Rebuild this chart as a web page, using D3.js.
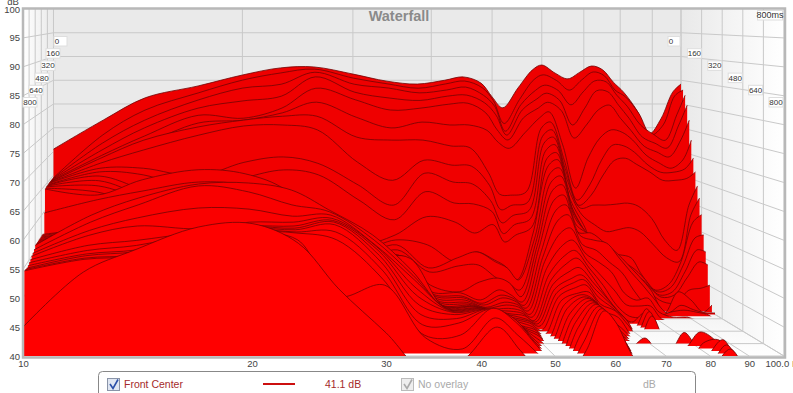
<!DOCTYPE html>
<html><head><meta charset="utf-8">
<style>html,body{margin:0;padding:0;background:#fff;overflow:hidden}svg{display:block}text{font-family:"Liberation Sans",Arial,sans-serif}</style>
<script src="https://cdn.jsdelivr.net/npm/d3@7/dist/d3.min.js"></script>
</head><body><svg id="c" width="793" height="393"></svg>
<script>
const freqs=[10,12,14,17,20,23,26,30,34,38,42,45,48,50,52,55,58,60,63,66,69,72,75,78,81,85,89,93,97,100];
const times=[0,16,32,48,64,80,96,112,128,144,160,176,192,208,224,240,264,288,312,336,360,384,408,432,456,480,512,544,576,608,640,672,704,736,768,800];
const db10=[70.5,64.5,64.5,64.5,64.5,64.5,64.5,64.5,64.5,64.4,64.4,64.4,64.4,64.3,64.3,59.7,55.5,56,56,56,56,56,56,56,56,56,55.5,55.2,55,54.7,54.5,54.3,54.2,54.3,54.4,45];
const db12=[76.6,73.6,72,70.7,69.7,68.7,69.4,68.5,67.6,67,66.3,65.5,64.6,63.5,63.1,62.3,57.6,57.6,57.9,57.9,58.2,58.2,58.5,58.6,58.8,61.6,60.6,59.4,58.8,57.3,56.7,56.4,56.4,56.3,56.4,54.5];
const db14=[81.3,78.8,76.8,75.3,73.7,72.1,73.1,71.2,67.6,66.4,63.5,62.4,61.8,60.8,66.1,64,60.5,60.7,61,61.2,61.4,61.6,61.9,62.1,62.4,64.8,63.8,61.7,60.5,58.2,57.6,57.1,57.1,56.8,56.9,58.3];
const db17=[83.8,82.4,81,79.4,78,76.5,75.8,74.2,66,63.4,59.5,58.4,57.4,56.4,68.1,65.8,62.5,62.7,62.9,63.1,63.3,63.5,63.8,64,64.2,67.4,67.3,63.5,60,59.7,59.8,59.2,59.2,58.8,58.9,62.3];
const db20=[86.1,85.1,83.5,80.9,77.4,77.1,77.2,76.1,68.8,65.8,56.5,56,55.4,54.4,67.3,65.2,62.5,62.7,62.9,63.1,63.3,63.5,63.8,64,64.2,67.6,66.2,63.3,61.2,60.8,61,61,61,60.9,60.8,62.9];
const db23=[87.6,86.6,84.3,81.9,79.5,78.6,78,76.3,69.9,67.4,55,54.6,54.2,53.6,64.1,62.3,61.5,61.7,61.9,62.2,62.4,62.6,62.9,63.1,63.3,66.3,63.8,62,61.2,60.8,60.7,60.7,60.6,60.7,59.8,59.5];
const db26=[87.8,87.4,86.8,85.9,83.6,80.8,78,75.3,68.6,66.4,54.2,54,53.8,53.2,56.2,54.3,57.6,57.8,58,58.3,58.5,58.8,59,59.3,59.5,62.6,62.5,62.2,61.9,61.8,61.8,61.6,60.6,59.5,50,51.6];
const db30=[86.3,85.5,84.3,82.7,81.2,77.7,73.7,68.7,64.2,61.3,52.4,51.6,50.8,50,50.2,49.4,51.7,52,52.2,52.5,52.8,53.1,53.4,53.7,54,57.9,57.3,56.7,56.7,56.4,55.8,55,53.9,52.5,51.9,44];
const db34=[84.8,84.3,83.5,81.5,79.1,75.5,73.1,65,60.1,57.3,54.4,53.6,52.8,52,51.2,50.4,51,51.4,51.7,52,52.2,52.5,52.8,53,53.3,51.4,50.8,50.3,49.2,48.1,46.9,45.6,44.2,42.8,42.7,37];
const db38=[84.2,83.4,82.5,81,79.5,76.7,73.1,69.1,66.6,63,58.1,52.6,48.2,47.6,45.2,44.1,44,44,43.9,43.8,43.8,43.7,43.9,44.1,44.2,44.3,44.5,44.8,45,45.2,45.2,44.9,44.5,42.8,40.8,39.5];
const db42=[85,84.3,83.1,81.9,80.3,76.1,71.9,68.1,64.8,60.7,57,49.2,50.2,48.8,43.9,43.9,43.6,43.6,43.5,43.4,43.4,43.5,43.6,43.9,44.2,44.3,44.7,45,45.4,45.7,46.1,46.6,47,47.5,46.2,45];
const db45=[85.7,84.9,83.7,82.1,80.5,76.1,71.5,67.9,64.4,60.5,54.8,51.2,51.4,49,45.8,42.5,42.2,42.2,42.1,42.3,42.4,42.6,42.8,42.9,43.1,43.2,43.4,43.7,44.1,44.5,44.9,45.2,45.4,45.1,43.2,41];
const db48=[84.4,83.5,82,80.5,78.5,75,66.5,64,61,59,56.5,49.6,49.4,46.4,46.6,44.5,43.8,43.6,43.1,42.9,42.6,42.4,42.2,42.2,42.1,42.1,42.1,41.9,42,42,41.9,41.6,41.3,41,39.8,37];
const db50=[81.5,80.8,79.7,78,75,72.5,62,59,56.5,54.5,53,48.2,48.2,45.4,45.6,43.5,43.2,43,42.7,42.5,42.2,42,41.9,41.6,41.6,41.5,41.3,41.2,41,40.8,40.2,39.5,39,38.5,37.5,36];
const db52=[79.2,76,74.5,73.8,72.9,71.3,61.8,59.9,58,56.3,54.4,45.6,45.8,44,42.9,42.1,41.8,41.6,41.4,41.1,40.9,40.6,40.7,40.7,40.6,40.2,39.8,39.3,39,38.5,38,37.5,37.2,37,37,36.5];
const db55=[83.4,81,80,79,77.5,74.5,62.5,60.5,59,57.5,56,55,54,53.5,53,52.5,52,51.5,51,50,49,48.3,47.8,47.3,46.9,46.5,46.2,45.8,45.5,45,44.6,44.2,43.7,43,42,41];
const db58=[87.2,85.2,83,81.3,79.5,77.6,75.5,74,72.7,71.2,69.8,68.5,67,65.5,64,62.2,60.5,58.8,56.5,54.4,52.7,51.5,50.2,49.2,48.7,48.1,47.5,47.6,47.6,47.7,47.7,47.7,47.8,47.8,47.8,47.8];
const db60=[88.2,86.2,84.1,82.5,80.7,78.8,76.8,75.3,73.9,72.5,71,69.7,68.2,66.7,65.1,63.2,61.5,59.8,57.5,55.4,53.7,52.5,51,49.9,49.3,48.6,47.7,47,46.8,46.7,46.6,46.5,46.4,46.3,46.2,46];
const db63=[86.5,85,83,81,79,72,69,67,65.2,63.4,61.5,60.2,59.4,58.4,57.1,55.9,55.5,54,52.7,51.5,50.3,49.2,48,47,46,45,44.2,43.6,43.3,43,42.7,42.4,42,41.6,41,40.4];
const db66=[85.3,83,80,75.9,73.3,63.1,60.8,59.9,59.5,58.3,56.5,55.2,55,55,55.1,55.7,54.6,52.9,50.9,48.6,47,45.4,45,44.5,44,43.8,43,41.5,40.7,40.2,39.5,39,38.5,38,37.5,36.5];
const db69=[86.7,85.1,82.7,79.4,76,69.3,63.9,62,60.1,56.3,51.4,51.2,51,50.8,50.6,53.8,54,50.6,48.9,45.8,43.2,42.2,42,42,41.8,41,39.5,39,38.5,39,41,39,38,37,36,35];
const db72=[88,86.8,85,83,79.1,73.4,69,66.1,60.1,54.9,50.6,50,49.4,49,48.6,51.8,51.1,48.6,44.9,42.9,41.1,40.3,39.5,39,38.5,38,37.5,37,37,37.5,38.5,37,36.5,36,36,36];
const db75=[87.2,86,84.8,82.8,80.1,75.1,72.1,69.1,60.3,55.3,50.4,49.2,48.2,47.6,47.8,49.4,48.3,45.1,43.5,42.7,40.7,42,43.2,43,42.5,39,38,37.5,37.5,38,39,38,37.5,37,36.5,36];
const db78=[84.6,83,82,80,77.4,74.6,71.9,69.5,60.5,55.7,49.8,48,46.8,46,45.2,47,45.8,42.2,43.9,42.7,40.1,39.5,39,39,38.5,37.5,37,36.5,37,38,42,40,38,37,36,35];
const db81=[82.5,81.6,79.7,77.3,74.9,73,70.6,68.3,59.9,54.9,46.4,46,45.4,45,43.8,44.5,43.2,40,41.2,40.2,39.5,39,38,38,37.5,37,36.5,36.5,36.5,37.5,39.5,42.5,41,39,38,38];
const db85=[78.7,78.2,75.8,73.4,71.6,69.9,68,66.7,57.4,52.2,43.3,43.2,42.8,42.6,41.9,40,40.3,40.8,40.2,39.5,39,38.5,38,38,37.5,37,36.5,36.5,36.5,36.5,37,41,41.5,42,41.5,41.2];
const db89=[73.7,73.6,73.9,72.1,70.4,68.3,66.5,65,53,49.6,44.4,44,43.4,43,41.7,44.1,41.8,41.2,40.2,39.5,38.5,38,38,37.5,37.5,37,36.5,36.5,36.5,36.5,36.5,37,37.5,38,38,38];
const db93=[77,75.7,72.6,71.1,69.4,67.2,66.5,65,50.9,48.8,49,48.4,47.4,46.4,44.2,42.5,40.9,40.8,39.5,39,38.5,38,38,37.5,37,37,36.5,36.5,36.5,36.5,36.5,36.5,36.5,36.5,36.5,36.5];
const db97=[82.5,81.8,77.9,75.9,72.9,68.9,67.2,65.4,60.1,58.3,57,54,51.8,49.6,44.6,40.1,40.3,40.2,39.5,38.5,38,37.5,37,37,36.5,36.5,36,36,36,36,36,36,36,36,36,36];
const db100=[84.2,83,82,80,77,73,69.4,66.7,64,61.7,58.5,54.6,51.4,49,45.2,41.5,40.3,38.5,37.5,37,36.5,36.5,36,36,36,36,36,36,36,36,36,36,36,36,36,36];
const columns=[db10,db12,db14,db17,db20,db23,db26,db30,db34,db38,db42,db45,db48,db50,db52,db55,db58,db60,db63,db66,db69,db72,db75,db78,db81,db85,db89,db93,db97,db100];

const dbTicks=[40,45,50,55,60,65,70,75,80,85,90,95,100];
const hzTicks=[10,20,30,40,50,60,70,80,90,100];
const msTicks=[0,160,320,480,640,800];

const svg=d3.select("#c");
const lg=d3.scaleLog().domain([10,100]).range([0,1]);
const depth=d3.scaleLinear().domain([0,800]).range([0,1]);
const leftAt=d3.scaleLinear().domain([0,800]).range([53.5,23]);
const rightAt=d3.scaleLinear().domain([0,800]).range([681,784]);
const yBack=d3.scaleLinear().domain([40,100]).range([294,9]);
const yFront=d3.scaleLinear().domain([40,100]).range([356,9]);
const X=(f,t)=>leftAt(t)+(rightAt(t)-leftAt(t))*lg(f);
const Y=(v,t)=>yBack(v)+(yFront(v)-yBack(v))*depth(t);

const defs=svg.append("defs");
function grad(id,stops,x2,y2){const g=defs.append("linearGradient").attr("id",id).attr("x1",0).attr("y1",0).attr("x2",x2).attr("y2",y2);
 stops.forEach(s=>g.append("stop").attr("offset",s[0]).attr("stop-color",s[1]));}
grad("gl",[[0,"#ffffff"],[1,"#e9e9e9"]],1,0);
grad("gr",[[0,"#e9e9e9"],[1,"#ffffff"]],1,0);
grad("gf",[[0,"#eeeeee"],[1,"#ffffff"]],0,1);

const poly=(pts,fill)=>svg.append("polygon").attr("points",pts.map(p=>p.join(",")).join(" ")).attr("fill",fill);
const T0=0,T1=800,topY=yBack(100);
poly([[leftAt(T1),topY],[leftAt(T0),topY],[leftAt(T0),Y(40,T0)],[leftAt(T1),Y(40,T1)]],"url(#gl)");
poly([[rightAt(T0),topY],[rightAt(T1),topY],[rightAt(T1),Y(40,T1)],[rightAt(T0),Y(40,T0)]],"url(#gr)");
poly([[leftAt(T0),Y(40,T0)],[rightAt(T0),Y(40,T0)],[rightAt(T1),Y(40,T1)],[leftAt(T1),Y(40,T1)]],"url(#gf)");
poly([[leftAt(T0),topY],[rightAt(T0),topY],[rightAt(T0),Y(40,T0)],[leftAt(T0),Y(40,T0)]],"#eaeaea");

const grid=svg.append("g").attr("stroke","#c9c9c9").attr("stroke-width",1).attr("fill","none");
const ln=(a,b)=>grid.append("line").attr("x1",a[0]).attr("y1",a[1]).attr("x2",b[0]).attr("y2",b[1]);
dbTicks.forEach(v=>{ if(v===100) return;
 ln([leftAt(T0),Y(v,T0)],[rightAt(T0),Y(v,T0)]);
 ln([leftAt(T0),Y(v,T0)],[leftAt(T1),Y(v,T1)]);
 ln([rightAt(T0),Y(v,T0)],[rightAt(T1),Y(v,T1)]);
});
hzTicks.forEach(f=>{
 ln([X(f,T0),topY],[X(f,T0),Y(40,T0)]);
 ln([X(f,T0),Y(40,T0)],[X(f,T1),Y(40,T1)]);
});
msTicks.forEach(t=>{
 ln([leftAt(t),topY],[leftAt(t),Y(40,t)]);
 ln([rightAt(t),topY],[rightAt(t),Y(40,t)]);
 ln([leftAt(t),Y(40,t)],[rightAt(t),Y(40,t)]);
});

const slices=times.map((t,i)=>({t,vals:columns.map((c,j)=>({f:freqs[j],v:c[i]}))}));
const shade=d3.scaleLinear().domain([0,800]).range(["#ee0000","#ff0000"]);
const marks=svg.append("g");
slices.forEach((s,i)=>{
 const floorY=Y(40,s.t);
 defs.append("clipPath").attr("id","s"+i).append("rect").attr("x",0).attr("y",0).attr("width",793).attr("height",floorY);
 const g=marks.append("g").attr("clip-path","url(#s"+i+")");
 const a=d3.area().x(d=>X(d.f,s.t)).y0(floorY+2).y1(d=>Y(d.v,s.t)).curve(d3.curveCatmullRom.alpha(0.5));
 const l=d3.line().x(d=>X(d.f,s.t)).y(d=>Y(d.v,s.t)).curve(d3.curveCatmullRom.alpha(0.5));
 g.append("path").attr("d",a(s.vals)).attr("fill",shade(s.t));
 g.append("path").attr("d",l(s.vals)).attr("fill","none").attr("stroke","#720404").attr("stroke-opacity",.9).attr("stroke-width",.9);
});

svg.append("rect").attr("x",23).attr("y",8.5).attr("width",762).attr("height",349).attr("fill","none").attr("stroke","#b8b8b8").attr("stroke-width",2.5);

const yFrontAxis=d3.axisLeft(yFront).tickValues(dbTicks).tickSize(0).tickPadding(1);
const xFront=d3.scaleLog().domain([10,100]).range([leftAt(T1),rightAt(T1)]);
const xAxis=d3.axisBottom(xFront).tickValues(hzTicks).tickSize(0).tickPadding(3).tickFormat(d=>d===100?"100.0 Hz":d);
const ya=svg.append("g").attr("transform","translate(21,0)").call(yFrontAxis);
const xa=svg.append("g").attr("transform","translate(0,357)").call(xAxis);
[ya,xa].forEach(g=>{g.select(".domain").remove();g.selectAll("text").attr("fill","#444").style("font-size","9.5px").style("font-family",'"Liberation Sans",Arial,sans-serif');});
svg.append("text").attr("x",13).attr("y",5).attr("text-anchor","middle").attr("font-size",9.5).attr("fill","#444").text("dB");
svg.append("text").attr("x",399).attr("y",21).attr("text-anchor","middle").attr("font-size",14.5).attr("font-weight","bold").attr("fill","#8a8a8a").text("Waterfall");

function tag(cx,cy,str,w,tx,fs){
 svg.append("rect").attr("x",cx-w/2).attr("y",cy-4.5).attr("width",w).attr("height",9.5).attr("fill","#fff").attr("stroke","#dedede");
 svg.append("text").attr("x",tx===undefined?cx:tx).attr("y",cy+3).attr("text-anchor","middle").attr("font-size",fs||8).attr("fill","#333").text(str);
}
const tagLeftX=d3.scaleLinear().domain([0,800]).range([60,30]);
const tagRightX=d3.scaleLinear().domain([0,800]).range([674,776]);
const tagY=d3.scaleLinear().domain([0,800]).range([41,102]);
msTicks.forEach(t=>{
 tag(t===0?60.5:tagLeftX(t)+(t===160?-1:0),tagY(t),String(t),t===0?13:14,t===0?57:undefined);
 tag(tagRightX(t),tagY(t),String(t),t===0?12:14,t===0?671:undefined);
});
tag(770,15,"800ms",25,770,9);

/* legend */
svg.append("rect").attr("x",98.5).attr("y",371.5).attr("width",597).attr("height",40).attr("rx",4).attr("fill","#fff").attr("stroke","#888");
svg.append("rect").attr("x",107.5).attr("y",378.5).attr("width",12).attr("height",12).attr("fill","#dfe6f2").attr("stroke","#8a94a8");
svg.append("path").attr("d","M110 384 L113 388.5 L118 379.5").attr("fill","none").attr("stroke","#2a4fa8").attr("stroke-width",1.6);
svg.append("text").attr("x",124).attr("y",388).attr("font-size",10.5).attr("fill","#a52a2a").text("Front Center");
svg.append("line").attr("x1",263).attr("x2",295).attr("y1",384).attr("y2",384).attr("stroke","#cc0f0f").attr("stroke-width",2);
svg.append("text").attr("x",325).attr("y",388).attr("font-size",10.5).attr("fill","#a52a2a").text("41.1 dB");
svg.append("rect").attr("x",401.5).attr("y",378.5).attr("width",12).attr("height",12).attr("fill","#eeeeee").attr("stroke","#bbb");
svg.append("path").attr("d","M404 384 L407 388.5 L412 379.5").attr("fill","none").attr("stroke","#aaa").attr("stroke-width",1.6);
svg.append("text").attr("x",418).attr("y",388).attr("font-size",10.5).attr("fill","#a9a9a9").text("No overlay");
svg.append("text").attr("x",643).attr("y",388).attr("font-size",10.5).attr("fill","#a9a9a9").text("dB");
</script></body></html>
